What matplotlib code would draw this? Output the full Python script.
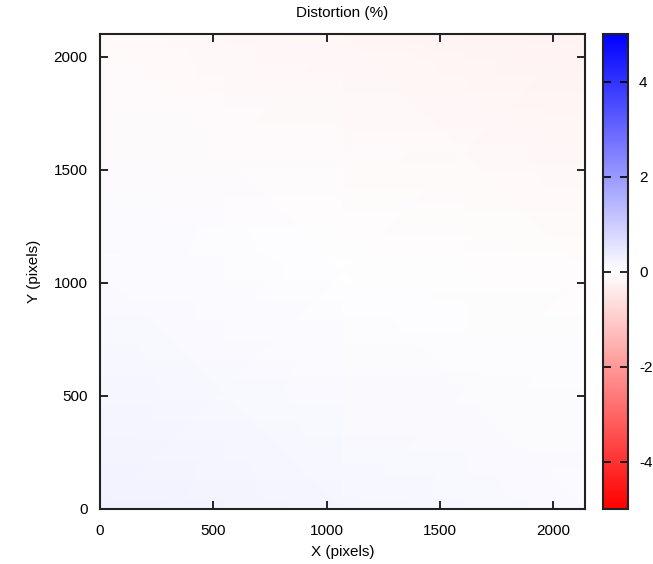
import matplotlib
matplotlib.use('Agg')
import matplotlib.pyplot as plt
import numpy as np
from matplotlib.colors import LinearSegmentedColormap

plt.rcParams['font.family'] = ['Liberation Sans', 'DejaVu Sans']
plt.rcParams['axes.unicode_minus'] = False

# distortion (%) read at grid nodes of the image
x_nodes = [0, 1070, 2140]
y_nodes = [0, 1050, 2100]
distortion = [
    [0.25, 0.17, 0.10],
    [0.08, 0.00, -0.07],
    [-0.10, -0.17, -0.25],
]
x_ticks = [0, 500, 1000, 1500, 2000]
y_ticks = [0, 500, 1000, 1500, 2000]
cb_ticks = [-4, -2, 0, 2, 4]

W, H = 653, 564
fig = plt.figure(figsize=(W / 100, H / 100), dpi=100)
ax = fig.add_axes([100 / W, 1 - 509 / H, 485 / W, 475 / H])
cax = fig.add_axes([603 / W, 1 - 509 / H, 25 / W, 475 / H])

cmap = LinearSegmentedColormap.from_list('rwb', ['#ff0000', '#ffffff', '#0000ff'])
X, Y = np.meshgrid(x_nodes, y_nodes)
mesh = ax.pcolormesh(X, Y, np.array(distortion), cmap=cmap, vmin=-5, vmax=5,
                     shading='gouraud')
ax.set_xlim(x_nodes[0], x_nodes[-1])
ax.set_ylim(y_nodes[0], y_nodes[-1])
ax.set_xticks(x_ticks)
ax.set_yticks(y_ticks)
ax.tick_params(direction='in', length=6, width=1.2, top=True, right=True,
               labelsize=11, pad=9, colors='black')
ax.tick_params(axis='x', pad=11)
for s in ax.spines.values():
    s.set_linewidth(1.5)
    s.set_color('#222222')
ax.set_xlabel('X (pixels)', fontsize=11, labelpad=5)
ax.set_ylabel('Y (pixels)', fontsize=11, labelpad=9)
ax.set_title('Distortion (%)', fontsize=11, pad=12)

cb = fig.colorbar(mesh, cax=cax)
cb.set_ticks(cb_ticks)
cax.tick_params(direction='in', length=6, width=1.2, left=True, right=True,
                labelsize=11, pad=8)
cb.outline.set_linewidth(1.5)
cb.outline.set_edgecolor('#222222')

fig.savefig('out.png', dpi=100)
